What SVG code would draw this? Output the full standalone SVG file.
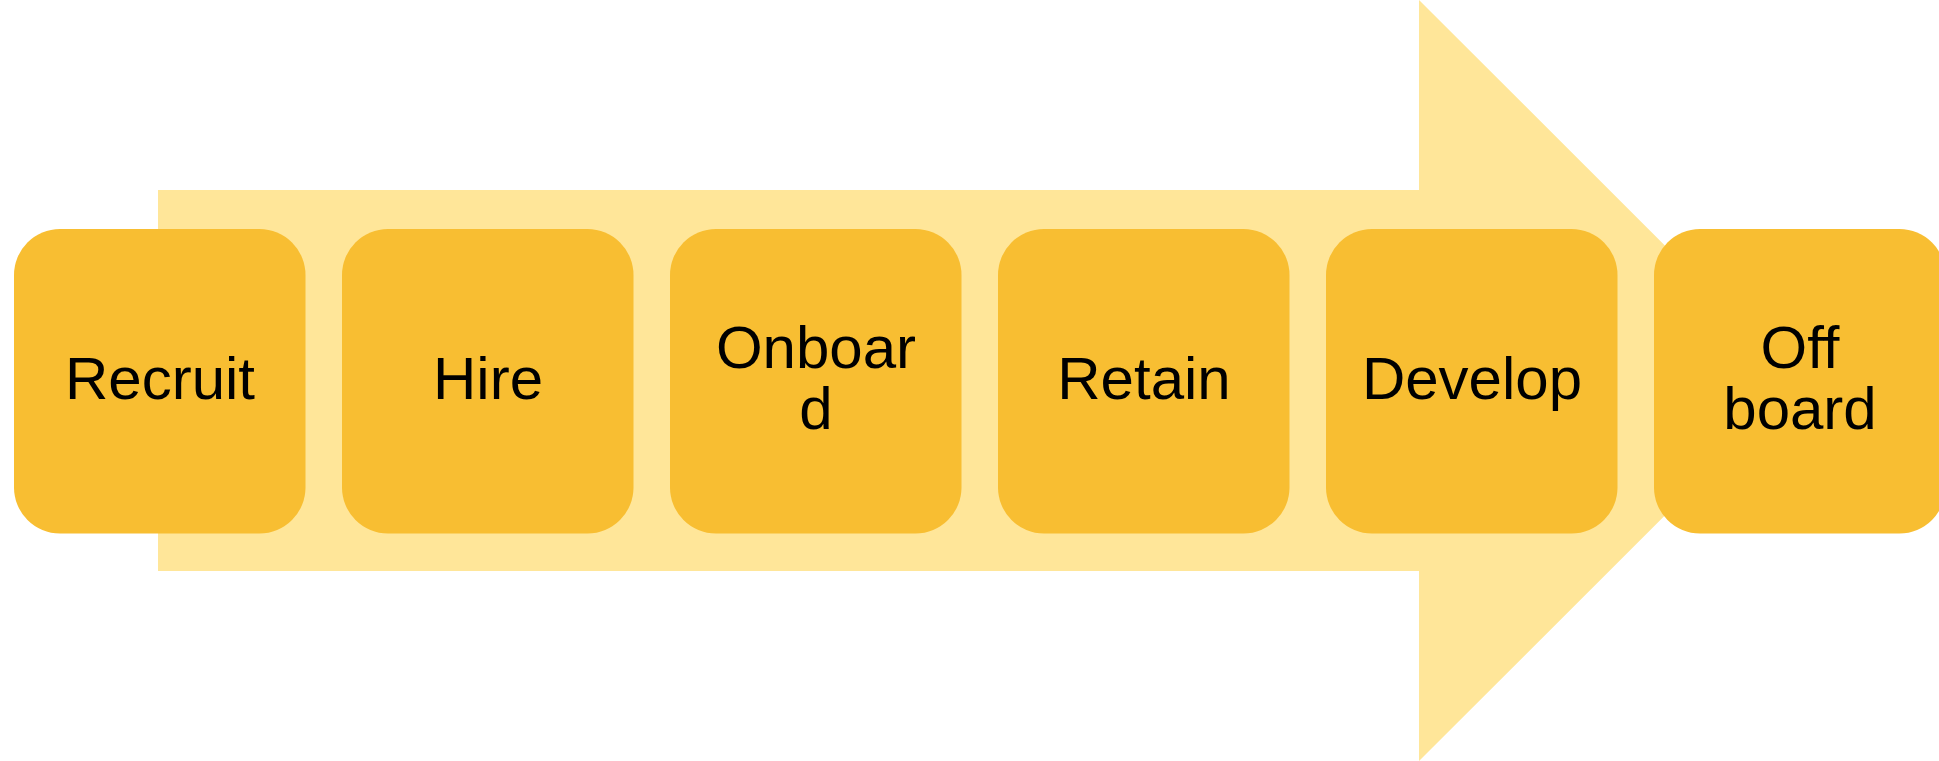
<svg xmlns="http://www.w3.org/2000/svg" width="1939" height="761" viewBox="0 0 1939 761">
<style>
.box{fill:#F8BE32;}
.lbl{font-family:"Liberation Sans",Arial,sans-serif;font-size:60px;fill:#000;text-anchor:middle;}
</style>
<rect width="1939" height="761" fill="#fff"/>
<g id="arrow">
<polygon points="158,190 1419,190 1419,0 1800,380.5 1419,761 1419,571 158,571" fill="#FFE699"/>
</g>
<g id="connectors"></g>
<g id="recruit"><rect class="box" x="14" y="229" width="291.5" height="304.5" rx="46"/><text class="lbl" x="160" y="399">Recruit</text></g>
<g id="hire"><rect class="box" x="342" y="229" width="291.5" height="304.5" rx="46"/><text class="lbl" x="488" y="399">Hire</text></g>
<g id="onboard"><rect class="box" x="670" y="229" width="291.5" height="304.5" rx="46"/><text class="lbl" x="816" y="368">Onboar</text><text class="lbl" x="816" y="429">d</text></g>
<g id="retain"><rect class="box" x="998" y="229" width="291.5" height="304.5" rx="46"/><text class="lbl" x="1144" y="399">Retain</text></g>
<g id="develop"><rect class="box" x="1326" y="229" width="291.5" height="304.5" rx="46"/><text class="lbl" x="1472" y="399">Develop</text></g>
<g id="offboard"><rect class="box" x="1654" y="229" width="291.5" height="304.5" rx="46"/><text class="lbl" x="1800" y="368">Off</text><text class="lbl" x="1800" y="429">board</text></g>
</svg>
